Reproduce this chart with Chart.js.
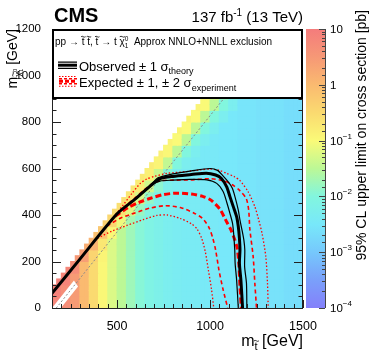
<!DOCTYPE html>
<html>
<head>
<meta charset="utf-8">
<script src="https://cdn.jsdelivr.net/npm/chart.js@4.4.1/dist/chart.umd.min.js"></script>
<style>
  html, body { margin: 0; padding: 0; background: #fff; }
</style>
</head>
<body>
<canvas id="myChart" width="374" height="359"></canvas>
<script>
// centres of the limit map cells (GeV)
var mStopCells = [175, 225, 275, 325, 375, 425, 475, 525, 575, 625, 675, 725, 775, 825, 875,
                  925, 975, 1025, 1075, 1125, 1175, 1225, 1275, 1325, 1375, 1425, 1475];
var mLspCells = [25, 75, 125, 175, 225, 275, 325, 375, 425, 475, 525, 575, 625, 675, 725, 775, 825, 875, 925];
// scan stops at m_stop - m_LSP = 75 GeV
var minDeltaM = 75;

// log10 of the 95% CL upper limit [pb], one row per m_LSP cell, rows end at m_stop = 1475
var limitLog = [
  [0.8, 0.7, 0.45, 0.0, -0.5, -0.95, -1.25, -1.5, -1.75, -1.95, -2.1, -2.2, -2.3, -2.35, -2.4, -2.4, -2.45, -2.45, -2.5, -2.5, -2.55, -2.55, -2.6, -2.6, -2.6, -2.65, -2.65],
  [0.9, 0.7, 0.45, 0.0, -0.5, -0.95, -1.25, -1.5, -1.75, -1.95, -2.1, -2.2, -2.3, -2.35, -2.4, -2.4, -2.45, -2.45, -2.5, -2.5, -2.55, -2.55, -2.6, -2.6, -2.6, -2.65, -2.65],
  [0.9, 0.85, 0.45, 0.0, -0.5, -0.95, -1.25, -1.5, -1.75, -1.95, -2.1, -2.2, -2.3, -2.35, -2.4, -2.4, -2.45, -2.45, -2.5, -2.5, -2.55, -2.55, -2.6, -2.6, -2.6, -2.65, -2.65],
  [0.8, 0.7, 0.0, -0.5, -0.95, -1.25, -1.5, -1.75, -1.95, -2.1, -2.2, -2.3, -2.35, -2.4, -2.4, -2.45, -2.45, -2.5, -2.5, -2.55, -2.55, -2.6, -2.6, -2.6, -2.65, -2.65],
  [0.5, 0.4, -0.4, -0.9, -1.25, -1.5, -1.75, -1.95, -2.1, -2.2, -2.3, -2.35, -2.4, -2.4, -2.45, -2.45, -2.5, -2.5, -2.55, -2.55, -2.6, -2.6, -2.6, -2.65, -2.65],
  [0.2, 0.1, -0.7, -1.25, -1.5, -1.75, -1.95, -2.1, -2.2, -2.3, -2.35, -2.4, -2.4, -2.45, -2.45, -2.5, -2.5, -2.55, -2.55, -2.6, -2.6, -2.6, -2.65, -2.65],
  [-0.1, -0.2, -0.95, -1.5, -1.75, -1.95, -2.1, -2.2, -2.3, -2.35, -2.4, -2.4, -2.45, -2.45, -2.5, -2.5, -2.55, -2.55, -2.6, -2.6, -2.6, -2.65, -2.65],
  [-0.35, -0.45, -1.1, -1.7, -1.95, -2.1, -2.2, -2.3, -2.35, -2.4, -2.4, -2.45, -2.45, -2.5, -2.5, -2.55, -2.55, -2.6, -2.6, -2.6, -2.65, -2.65],
  [-0.5, -0.6, -1.2, -1.8, -2.1, -2.2, -2.3, -2.35, -2.4, -2.4, -2.45, -2.45, -2.5, -2.5, -2.55, -2.55, -2.6, -2.6, -2.6, -2.65, -2.65],
  [-0.6, -0.7, -1.3, -1.85, -2.2, -2.3, -2.35, -2.4, -2.4, -2.45, -2.45, -2.5, -2.5, -2.55, -2.55, -2.6, -2.6, -2.6, -2.65, -2.65],
  [-0.7, -0.8, -1.35, -1.9, -2.25, -2.35, -2.4, -2.4, -2.45, -2.45, -2.5, -2.5, -2.55, -2.55, -2.6, -2.6, -2.6, -2.65, -2.65],
  [-0.75, -0.85, -1.4, -1.95, -2.3, -2.4, -2.4, -2.45, -2.45, -2.5, -2.5, -2.55, -2.55, -2.6, -2.6, -2.6, -2.65, -2.65],
  [-0.8, -0.9, -1.45, -2.0, -2.3, -2.4, -2.45, -2.45, -2.5, -2.5, -2.55, -2.55, -2.6, -2.6, -2.6, -2.65, -2.65],
  [-0.85, -0.95, -1.5, -2.0, -2.3, -2.45, -2.45, -2.5, -2.5, -2.55, -2.55, -2.6, -2.6, -2.6, -2.65, -2.65],
  [-0.9, -1.0, -1.5, -2.0, -2.3, -2.45, -2.5, -2.5, -2.55, -2.55, -2.6, -2.6, -2.6, -2.65, -2.65],
  [-0.9, -1.0, -1.5, -2.0, -2.3, -2.5, -2.5, -2.55, -2.55, -2.6, -2.6, -2.6, -2.65, -2.65],
  [-0.9, -1.0, -1.5, -2.0, -2.3, -2.5, -2.55, -2.55, -2.6, -2.6, -2.6, -2.65, -2.65],
  [-0.9, -1.0, -1.5, -2.0, -2.3, -2.55, -2.55, -2.6, -2.6, -2.6, -2.65, -2.65],
  [-0.9, -1.0, -1.5, -2.0, -2.3, -2.55, -2.6, -2.6, -2.6, -2.65, -2.65]
];

// exclusion contours [m_stop, m_LSP] in GeV
var observed = [[150, 63], [300, 210], [500, 405], [600, 470], [690, 533], [730, 556], [800, 566], [900, 574],
  [980, 580], [1030, 572], [1060, 558], [1089, 522], [1107, 479], [1125, 436], [1143, 393], [1152, 350],
  [1158, 300], [1161, 249], [1158, 192], [1166, 120], [1175, 0]];
var observedUp = [[150, 63], [500, 405], [600, 472], [690, 537], [720, 560], [800, 577], [900, 590], [1000, 600],
  [1040, 592], [1071, 567], [1100, 540], [1120, 515], [1134, 479], [1152, 421], [1161, 378], [1172, 335],
  [1182, 292], [1187, 249], [1186, 178], [1196, 106], [1198, 0]];
var observedDown = [[150, 63], [500, 405], [600, 468], [690, 530], [730, 546], [800, 550], [893, 553], [982, 551],
  [1036, 536], [1071, 500], [1089, 457], [1107, 407], [1121, 364], [1127, 320], [1133, 249], [1135, 192],
  [1143, 120], [1152, 0]];
var expected = [[490, 395], [560, 432], [620, 455], [680, 472], [750, 488], [820, 494], [900, 490], [960, 480],
  [1005, 464], [1053, 425], [1089, 371], [1110, 340], [1130, 300], [1145, 262], [1155, 192], [1161, 92], [1168, 0]];
var expectedUp1 = [[505, 410], [600, 476], [690, 536], [740, 548], [820, 550], [893, 551], [1000, 556], [1070, 548],
  [1120, 530], [1160, 505], [1195, 470], [1208, 420], [1214, 340], [1232, 221], [1241, 106], [1250, 0]];
var expectedDown1 = [[445, 352], [517, 386], [589, 407], [678, 430], [760, 440], [840, 432], [910, 410], [960, 385],
  [995, 345], [1015, 300], [1030, 250], [1048, 163], [1070, 80], [1095, 0]];
var expectedUp2 = [[470, 380], [530, 440], [580, 493], [625, 536], [660, 555], [700, 566], [770, 579], [875, 587],
  [946, 594], [1000, 598], [1050, 592], [1089, 579], [1130, 565], [1161, 548], [1205, 500], [1241, 436],
  [1262, 378], [1280, 320], [1300, 221], [1309, 106], [1313, 0]];
var expectedDown2 = [[395, 300], [470, 330], [553, 355], [640, 380], [714, 398], [770, 400], [840, 385], [900, 362],
  [930, 340], [955, 300], [975, 240], [991, 163], [1008, 80], [1020, 0]];

// m_stop - m_LSP = m_top line and the region not interpreted around it
var topDiagonal = [[173, 0], [1373, 1200]];
var topCorridor = [[150, 0], [198, 0], [290, 92], [268, 118], [150, 0]];

// colour palette of the limit map, log10(pb) -> rgb
var paletteLog = [-4, -3.5, -3, -2.5, -2, -1.5, -1, -0.5, 0, 0.5, 1];
var paletteRGB = [[132, 128, 250], [122, 160, 250], [118, 200, 252], [120, 232, 250], [130, 246, 222],
  [188, 248, 150], [250, 250, 120], [250, 218, 112], [250, 186, 112], [246, 152, 118], [244, 124, 124]];

var FONT = '"Liberation Sans", Arial, Helvetica, sans-serif';

function rgb(c) {
    return 'rgb(' + Math.round(c[0]) + ',' + Math.round(c[1]) + ',' + Math.round(c[2]) + ')';
}

function limitColor(v) {
    if (v <= paletteLog[0]) return rgb(paletteRGB[0]);
    for (var k = 1; k < paletteLog.length; k++) {
        if (v <= paletteLog[k]) {
            var f = (v - paletteLog[k - 1]) / (paletteLog[k] - paletteLog[k - 1]);
            var a = paletteRGB[k - 1], b = paletteRGB[k];
            return rgb([a[0] + f * (b[0] - a[0]), a[1] + f * (b[1] - a[1]), a[2] + f * (b[2] - a[2])]);
        }
    }
    return rgb(paletteRGB[paletteRGB.length - 1]);
}

// build the map as floating bars; every cell is drawn as four quarters so the
// edge of the scan (minDeltaM) follows a finer staircase
var halfCell = (mLspCells[1] - mLspCells[0]) / 2;
var q = halfCell / 2;
var heatCells = [];
var heatColors = [];
limitLog.forEach(function (row, j) {
    var offset = mStopCells.length - row.length;
    row.forEach(function (v, k) {
        var cx = mStopCells[offset + k], cy = mLspCells[j];
        var color = limitColor(v);
        [[-q, -q], [q, -q], [-q, q], [q, q]].forEach(function (d) {
            var sx = cx + d[0], sy = cy + d[1];
            if (sx - sy < minDeltaM) return;
            heatCells.push({ x: sx, y: [sy - q, sy + q] });
            heatColors.push(color);
        });
    });
});

function toPoints(arr) {
    return arr.map(function (p) { return { x: p[0], y: p[1] }; });
}

function contour(pts, color, width, dash, order) {
    return {
        type: 'line',
        data: toPoints(pts),
        borderColor: color,
        borderWidth: width,
        borderDash: dash,
        pointRadius: 0,
        fill: false,
        tension: 0.25,
        order: order
    };
}

// rich text: parts {t, size, dy, bold, stay, tilde}
function partFont(p) {
    return (p.bold ? 'bold ' : '') + p.size + 'px ' + FONT;
}

function partsWidth(ctx, parts) {
    var w = 0;
    parts.forEach(function (p) {
        ctx.font = partFont(p);
        if (!p.stay) w += ctx.measureText(p.t).width;
    });
    return w;
}

function drawTilde(ctx, x, y, w, size) {
    var h = size * 0.07;
    ctx.save();
    ctx.lineWidth = Math.max(0.8, size / 14);
    ctx.strokeStyle = ctx.fillStyle;
    ctx.setLineDash([]);
    ctx.beginPath();
    ctx.moveTo(x, y);
    ctx.bezierCurveTo(x + w / 3, y - 2.2 * h, x + 2 * w / 3, y + 2.2 * h, x + w, y);
    ctx.stroke();
    ctx.restore();
}

function drawParts(ctx, x, y, parts) {
    parts.forEach(function (p) {
        ctx.font = partFont(p);
        var dy = p.dy || 0;
        var w = ctx.measureText(p.t).width;
        ctx.fillText(p.t, x, y + dy);
        if (p.tilde) {
            var tw = Math.max(w, p.size * 0.45);
            drawTilde(ctx, x + w / 2 - tw / 2 + p.size * 0.03, y + dy - p.size * 0.83, tw, p.size);
        }
        if (!p.stay) x += w;
    });
    return x;
}

function innerTicks(ctx, chart) {
    var a = chart.chartArea, xs = chart.scales.x, ys = chart.scales.y;
    ctx.save();
    ctx.strokeStyle = '#222';
    ctx.lineWidth = 1;
    ctx.beginPath();
    xs.ticks.forEach(function (t) {
        var px = Math.round(xs.getPixelForValue(t.value)) + 0.5;
        var len = t.value % 500 === 0 ? 8 : 4;
        ctx.moveTo(px, a.bottom);
        ctx.lineTo(px, a.bottom - len);
    });
    ys.ticks.forEach(function (t) {
        var py = Math.round(ys.getPixelForValue(t.value)) + 0.5;
        var len = t.value % 200 === 0 ? 9 : 4.5;
        ctx.moveTo(a.left, py);
        ctx.lineTo(a.left + len, py);
        ctx.moveTo(a.right, py);
        ctx.lineTo(a.right - len, py);
    });
    // frame
    ctx.moveTo(a.left + 0.5, a.top);
    ctx.lineTo(a.left + 0.5, a.bottom + 0.5);
    ctx.lineTo(a.right - 0.5, a.bottom + 0.5);
    ctx.lineTo(a.right - 0.5, a.top);
    ctx.stroke();
    ctx.restore();
}

function drawColorBar(ctx, chart) {
    var a = chart.chartArea, zs = chart.scales.z;
    var x0 = a.right + 3, x1 = a.right + 22;
    var top = zs.getPixelForValue(10), bot = zs.getPixelForValue(1e-4);
    var lo = paletteLog[0], hi = paletteLog[paletteLog.length - 1];
    var grad = ctx.createLinearGradient(0, bot, 0, top);
    paletteLog.forEach(function (v, k) {
        grad.addColorStop((v - lo) / (hi - lo), rgb(paletteRGB[k]));
    });
    ctx.save();
    ctx.fillStyle = grad;
    ctx.fillRect(x0, top, x1 - x0, bot - top);
    ctx.strokeStyle = '#444';
    ctx.lineWidth = 1;
    ctx.beginPath();
    ctx.moveTo(x1 + 0.5, top);
    ctx.lineTo(x1 + 0.5, bot);
    ctx.fillStyle = '#000';
    ctx.textBaseline = 'middle';
    zs.ticks.forEach(function (t) {
        var py = Math.round(zs.getPixelForValue(t.value)) + 0.5;
        var e = Math.log10(t.value);
        var major = Math.abs(e - Math.round(e)) < 1e-6;
        ctx.moveTo(x1, py);
        ctx.lineTo(x1 - (major ? 6 : 3), py);
        if (major) {
            e = Math.round(e);
            var parts;
            if (e === 1) parts = [{ t: '10', size: 11.5 }];
            else if (e === 0) parts = [{ t: '1', size: 11.5 }];
            else parts = [{ t: '10', size: 11.5 }, { t: '\u2212' + (-e), size: 8, dy: -5 }];
            drawParts(ctx, x1 + 5, py, parts);
        }
    });
    ctx.stroke();
    ctx.restore();

    // colour axis title
    ctx.save();
    ctx.translate(366, 10);
    ctx.rotate(-Math.PI / 2);
    ctx.fillStyle = '#000';
    ctx.textAlign = 'right';
    ctx.textBaseline = 'alphabetic';
    ctx.font = '14px ' + FONT;
    ctx.fillText('95% CL upper limit on cross section [pb]', 0, 0);
    ctx.restore();
}

function drawLegendBox(ctx, chart) {
    var a = chart.chartArea;
    var h = 69;
    ctx.save();
    ctx.fillStyle = '#fff';
    ctx.fillRect(a.left, a.top, a.right - a.left, h);
    ctx.strokeStyle = '#000';
    ctx.lineWidth = 2;
    ctx.strokeRect(a.left + 1, a.top + 1, a.right - a.left - 2, h - 1);

    ctx.fillStyle = '#000';
    ctx.textBaseline = 'alphabetic';
    var s = 10;
    drawParts(ctx, a.left + 3, 45, [
        { t: 'pp \u2192 ', size: s },
        { t: 't', size: s, tilde: true },
        { t: ' ', size: s },
        { t: 't', size: s, tilde: true },
        { t: ', ', size: s },
        { t: 't', size: s, tilde: true },
        { t: ' \u2192 t ', size: s },
        { t: '\u03c7', size: s, tilde: true },
        { t: '0', size: 6.5, dy: -4, stay: true },
        { t: '1', size: 6.5, dy: 2.5 },
        { t: '  Approx NNLO+NNLL exclusion', size: s }
    ]);

    // observed entry
    var ix0 = a.left + 6, ix1 = a.left + 25;
    ctx.strokeStyle = '#000';
    ctx.lineWidth = 3;
    ctx.beginPath(); ctx.moveTo(ix0, 65.2); ctx.lineTo(ix1, 65.2); ctx.stroke();
    ctx.lineWidth = 1.2;
    ctx.beginPath();
    ctx.moveTo(ix0, 62.2); ctx.lineTo(ix1, 62.2);
    ctx.moveTo(ix0, 68.3); ctx.lineTo(ix1, 68.3);
    ctx.stroke();
    drawParts(ctx, a.left + 27, 70.5, [
        { t: 'Observed \u00b1 1 \u03c3', size: 13 },
        { t: 'theory', size: 9, dy: 3.5 }
    ]);

    // expected entry
    ctx.strokeStyle = '#ff0000';
    var rows = [[76.5, 1.1, [1.5, 1.5]], [78.8, 1.4, [3, 2]], [81.3, 3, [4, 2]], [83.8, 1.4, [3, 2]], [86.2, 1.1, [1.5, 1.5]]];
    rows.forEach(function (r) {
        ctx.lineWidth = r[1];
        ctx.setLineDash(r[2]);
        ctx.beginPath(); ctx.moveTo(ix0 + 1, r[0]); ctx.lineTo(ix1, r[0]); ctx.stroke();
    });
    ctx.setLineDash([]);
    drawParts(ctx, a.left + 27, 87.3, [
        { t: 'Expected \u00b1 1, \u00b1 2 \u03c3', size: 13 },
        { t: 'experiment', size: 9, dy: 3.5 }
    ]);
    ctx.restore();
}

function drawTitles(ctx, chart) {
    var a = chart.chartArea;
    ctx.save();
    ctx.fillStyle = '#000';
    ctx.textBaseline = 'alphabetic';
    drawParts(ctx, a.left + 2, 22, [{ t: 'CMS', size: 20, bold: true }]);

    var lumi = [
        { t: '137 fb', size: 15 },
        { t: '-1', size: 10, dy: -6 },
        { t: ' (13 TeV)', size: 15 }
    ];
    drawParts(ctx, a.right - partsWidth(ctx, lumi), 22, lumi);

    // x axis title
    var xt = [
        { t: 'm', size: 16 },
        { t: 't', size: 11, dy: 4, tilde: true },
        { t: ' [GeV]', size: 16 }
    ];
    drawParts(ctx, a.right - partsWidth(ctx, xt), 346, xt);

    // y axis title
    var yt = [
        { t: 'm', size: 14 },
        { t: '\u03c7', size: 9, dy: 3.5, tilde: true },
        { t: '0', size: 6, dy: -0.5, stay: true },
        { t: '1', size: 6, dy: 6 },
        { t: ' [GeV]', size: 14 }
    ];
    ctx.translate(17, a.top);
    ctx.rotate(-Math.PI / 2);
    drawParts(ctx, -partsWidth(ctx, yt), 0, yt);
    ctx.restore();
}

var cmsDecor = {
    id: 'cmsDecor',
    afterDraw: function (chart) {
        var ctx = chart.ctx;
        innerTicks(ctx, chart);
        drawLegendBox(ctx, chart);
        drawColorBar(ctx, chart);
        drawTitles(ctx, chart);
    }
};

Chart.defaults.font.family = FONT;
Chart.defaults.color = '#000';

var ctx = document.getElementById('myChart').getContext('2d');
var myChart = new Chart(ctx, {
    type: 'scatter',
    data: {
        datasets: [
            {
                type: 'bar',
                data: heatCells,
                backgroundColor: heatColors,
                borderWidth: 0,
                barPercentage: 1,
                categoryPercentage: 1,
                inflateAmount: 0.5,
                grouped: false,
                order: 30
            },
            {
                type: 'line',
                data: toPoints(topCorridor),
                borderWidth: 0,
                pointRadius: 0,
                backgroundColor: '#ffffff',
                fill: 'shape',
                tension: 0,
                order: 20
            },
            contour(topDiagonal, '#8a8a8a', 1, [2, 2], 10),
            contour(expectedDown2, '#ff0000', 1.3, [1.5, 2], 6),
            contour(expectedUp2, '#ff0000', 1.3, [1.5, 2], 6),
            contour(expectedDown1, '#ff0000', 1.6, [4, 3], 5),
            contour(expectedUp1, '#ff0000', 1.6, [4, 3], 5),
            contour(expected, '#ff0000', 3, [6, 3], 4),
            contour(observedDown, '#000000', 1.2, [], 3),
            contour(observedUp, '#000000', 1.2, [], 3),
            contour(observed, '#000000', 3, [], 2)
        ]
    },
    options: {
        responsive: false,
        animation: false,
        events: [],
        layout: { padding: { top: 29, left: 0, right: 0, bottom: 0 } },
        plugins: {
            legend: { display: false },
            tooltip: { enabled: false }
        },
        scales: {
            x: {
                type: 'linear',
                min: 150,
                max: 1500,
                offset: false,
                grid: { display: false },
                border: { display: false },
                ticks: {
                    stepSize: 50,
                    autoSkip: false,
                    maxRotation: 0,
                    minRotation: 0,
                    padding: 3,
                    font: { size: 12.5 },
                    callback: function (v) { return v % 500 === 0 ? String(v) : ''; }
                },
                afterFit: function (s) { s.height = 51; }
            },
            y: {
                type: 'linear',
                min: 0,
                max: 1200,
                grid: { display: false },
                border: { display: false },
                ticks: {
                    stepSize: 50,
                    autoSkip: false,
                    padding: 3,
                    font: { size: 11.5 },
                    callback: function (v) { return v % 200 === 0 ? String(v) : ''; }
                },
                afterFit: function (s) { s.width = 52; }
            },
            z: {
                type: 'logarithmic',
                position: 'right',
                min: 1e-4,
                max: 10,
                grid: { display: false },
                border: { display: false },
                ticks: { display: false },
                afterFit: function (s) { s.width = 71; }
            }
        }
    },
    plugins: [cmsDecor]
});
</script>
</body>
</html>
